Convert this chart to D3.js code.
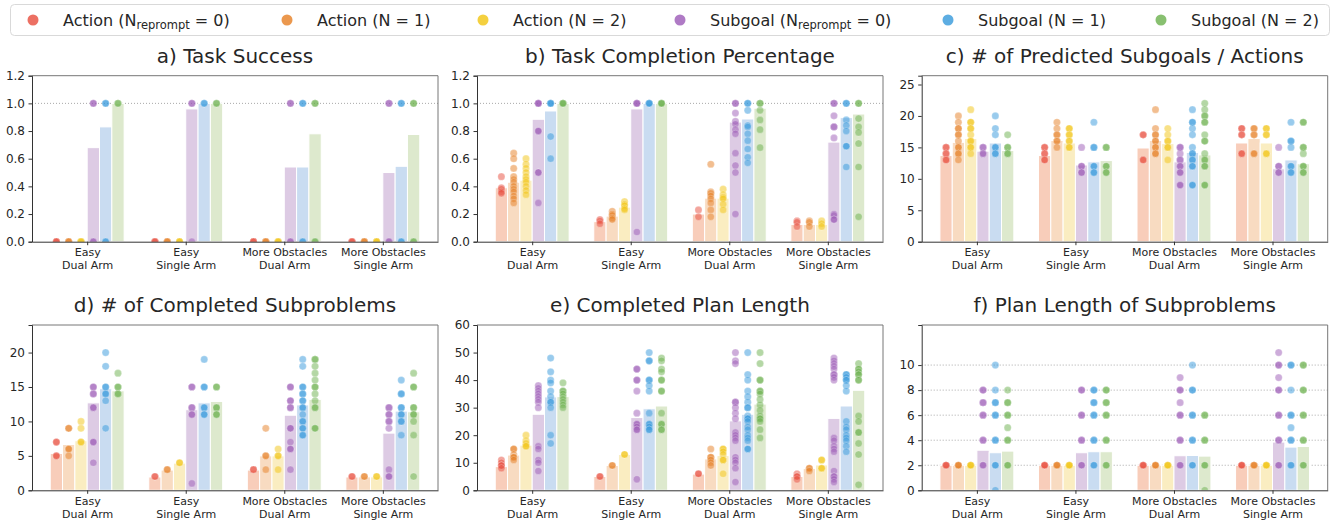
<!DOCTYPE html>
<html>
<head>
<meta charset="utf-8">
<script src="https://cdn.jsdelivr.net/npm/d3@7"></script>
<style>
  body { margin: 0; background: #fff; }
  svg { font-family: "DejaVu Sans", sans-serif; }
</style>
</head>
<body>
<svg id="chart" width="1340" height="523"></svg>
<script>
// categories / series
const categories = [["Easy", "Dual Arm"], ["Easy", "Single Arm"], ["More Obstacles", "Dual Arm"], ["More Obstacles", "Single Arm"]];
const seriesLabels = [
  ["Action (N", "reprompt", " = 0)"], ["Action (N = 1)"], ["Action (N = 2)"],
  ["Subgoal (N", "reprompt", " = 0)"], ["Subgoal (N = 1)"], ["Subgoal (N = 2)"]
];
const colors = ["#e74c3c", "#e67e22", "#f1c40f", "#9b59b6", "#3498db", "#6ab04c"];
const barColors = ["#f8cdba", "#f8dbc1", "#faedc1", "#ddcbe4", "#c9dcf1", "#dde9cd"];

// a) task success: means [series][category], points [series][category][]
const successMeans = [
  [0, 0, 0, 0], [0, 0, 0, 0], [0, 0, 0, 0],
  [0.68, 0.96, 0.54, 0.50], [0.83, 1.0, 0.54, 0.545], [1.0, 1.0, 0.78, 0.775]
];
const successPoints = [
  [[0, 0, 0], [0, 0, 0], [0, 0, 0], [0, 0, 0]],
  [[0, 0, 0], [0, 0, 0], [0, 0, 0], [0, 0, 0]],
  [[0, 0, 0], [0, 0, 0], [0, 0, 0], [0, 0, 0]],
  [[1, 1, 0, 0], [1, 1, 0], [1, 1, 0, 0], [1, 1, 0, 0]],
  [[1, 1, 0, 0], [1, 1], [1, 1, 0, 0], [1, 1, 0, 0]],
  [[1, 1], [1, 1], [1, 1, 0, 0], [1, 1, 0, 0]]
];

// b) task completion percentage
const completionMeans = [
  [0.39, 0.145, 0.20, 0.125], [0.43, 0.185, 0.315, 0.125], [0.445, 0.25, 0.315, 0.125],
  [0.885, 0.96, 0.865, 0.72], [0.945, 1.0, 0.887, 0.897], [1.0, 1.0, 0.965, 0.923]
];
const completionPoints = [
  [[0.47, 0.39, 0.38, 0.36, 0.35], [0.16, 0.15, 0.13], [0.23, 0.18], [0.15, 0.14, 0.11]],
  [[0.64, 0.60, 0.53, 0.47, 0.45, 0.43, 0.40, 0.38, 0.36, 0.33, 0.31, 0.28], [0.22, 0.20, 0.19, 0.17, 0.16],
   [0.56, 0.36, 0.35, 0.33, 0.31, 0.28, 0.23, 0.18], [0.15, 0.14, 0.11]],
  [[0.60, 0.56, 0.53, 0.50, 0.47, 0.45, 0.43, 0.40, 0.37, 0.34], [0.29, 0.27, 0.26, 0.24, 0.23],
   [0.38, 0.34, 0.32, 0.31, 0.27, 0.23], [0.15, 0.13, 0.11]],
  [[1, 1, 1, 0.8, 0.8, 0.5, 0.5, 0.28], [1, 1, 1, 0.07], [1, 1, 0.93, 0.87, 0.85, 0.81, 0.78, 0.64, 0.55, 0.5, 0.2],
   [1, 1, 0.91, 0.83, 0.83, 0.75, 0.2, 0.19, 0.16, 0.16]],
  [[1, 1, 1, 0.76, 0.6], [1, 1, 1], [1, 1, 0.95, 0.84, 0.83, 0.78, 0.73, 0.67, 0.61, 0.57],
   [1, 1, 0.88, 0.84, 0.8, 0.69, 0.69, 0.54]],
  [[1, 1, 1], [1, 1, 1], [1, 1, 0.95, 0.88, 0.81, 0.68], [1, 1, 0.89, 0.83, 0.79, 0.71, 0.54, 0.18]]
];

// c) # of predicted subgoals / actions
const predictedMeans = [
  [13.7, 13.7, 14.9, 15.7], [15.8, 16.1, 16.1, 16.4], [16.4, 15.7, 15.6, 15.7],
  [14.4, 12.2, 12.7, 11.6], [15.7, 12.7, 14.2, 13.0], [14.5, 12.9, 13.8, 12.4]
];
const predictedPoints = [
  [[15, 15, 14, 14, 13, 13], [15, 15, 14, 14, 13, 13], [17, 17, 13, 13], [18, 18, 17, 17, 14, 14]],
  [[20, 19, 18, 18, 17, 17, 16, 15, 15, 14, 14, 13], [19, 18, 17, 17, 16, 16, 15], [21, 18, 17, 17, 16, 16, 15, 15, 14, 14],
   [18, 18, 17, 17, 14, 14]],
  [[21, 19, 19, 18, 18, 17, 16, 16, 15, 15, 14], [18, 18, 17, 17, 16, 16, 15, 15], [18, 17, 16, 16, 15, 15, 13],
   [18, 18, 17, 17, 14, 14]],
  [[15, 15, 14, 14], [15, 12, 12, 11, 11], [15, 15, 14, 13, 13, 12, 12, 11, 11, 9, 9], [15, 12, 12, 11, 11]],
  [[20, 18, 17, 15, 15, 14, 14], [19, 15, 15, 12, 12, 11, 11], [21, 19, 19, 18, 17, 15, 14, 14, 13, 13, 12, 12, 9, 9],
   [19, 16, 16, 15, 12, 12, 11, 11]],
  [[17, 15, 15, 14, 14], [15, 15, 12, 12, 11, 11], [22, 21, 20, 20, 19, 19, 17, 16, 16, 14, 13, 13, 12, 12, 9, 9],
   [19, 19, 15, 15, 14, 12, 12, 11, 11]]
];

// d) # of completed subproblems
const subproblemMeans = [
  [5.35, 1.93, 2.94, 1.93], [6.65, 2.94, 5.0, 1.95], [7.2, 3.95, 5.0, 1.95],
  [12.7, 11.7, 10.9, 8.3], [14.75, 12.7, 12.4, 11.5], [14.45, 12.9, 13.2, 11.4]
];
const subproblemPoints = [
  [[7, 7, 5, 5], [2, 2], [3, 3], [2, 2]],
  [[9, 9, 6, 6, 5], [3, 3], [9, 5, 5, 3], [2, 2]],
  [[10, 9, 7, 7], [4, 4], [6, 5, 5, 3], [2, 2]],
  [[15, 15, 14, 14, 12, 12, 7, 7, 4], [15, 15, 12, 12, 11, 11, 1], [15, 15, 13, 13, 12, 12, 9, 9, 7, 6, 6, 3],
   [12, 12, 11, 11, 10, 10, 9, 3, 2, 2]],
  [[20, 18, 15, 15, 14, 14, 13, 9], [19, 15, 15, 12, 12, 11, 11], [19, 18, 15, 15, 14, 14, 13, 13, 12, 12, 11, 10, 10, 9, 9, 8, 8],
   [16, 14, 14, 12, 12, 11, 11, 10, 10, 8]],
  [[17, 15, 15, 14, 14], [15, 15, 12, 12, 11, 11], [19, 19, 18, 17, 16, 15, 15, 14, 13, 12, 12, 9, 9],
   [17, 15, 15, 12, 12, 11, 11, 10, 8, 2]]
];

// e) completed plan length
const planMeans = [
  [8.6, 5.0, 5.9, 5.0], [12.8, 9.0, 11.4, 7.9], [16.4, 13.0, 12.6, 9.2],
  [27.6, 26.4, 25.2, 26.1], [33.9, 29.6, 27.6, 30.6], [34.0, 30.6, 31.3, 36.3]
];
const planPoints = [
  [[11, 10, 9, 9, 8], [5, 5], [6, 6], [6, 5, 5, 4]],
  [[15, 15, 13, 12, 12, 11], [9, 9], [15, 12, 12, 11, 10, 9], [8, 8, 7]],
  [[20, 18, 17, 16, 16], [13, 13], [15, 15, 14, 13, 11, 11, 6], [11, 11, 8, 8]],
  [[38, 37, 36, 35, 34, 33, 32, 30, 16, 15, 11, 10, 7], [44, 44, 40, 40, 36, 28, 24, 24, 23, 22, 22, 4],
   [50, 47, 46, 32, 32, 30, 28, 26, 21, 20, 19, 18, 12, 11, 10, 8, 3],
   [48, 47, 46, 45, 44, 42, 42, 41, 40, 19, 18, 16, 15, 14, 7, 5, 5, 4, 3]],
  [[48, 43, 40, 39, 36, 34, 32, 32, 30, 20, 17], [50, 47, 47, 40, 40, 38, 36, 28, 24, 24, 23, 22, 22],
   [50, 42, 40, 36, 34, 32, 30, 30, 27, 26, 26, 25, 23, 22, 20, 19, 18, 15, 15],
   [42, 42, 41, 40, 40, 38, 36, 25, 23, 22, 20, 19, 18, 16, 14]],
  [[39, 36, 36, 35, 34, 33, 32, 31, 30], [48, 47, 44, 43, 40, 40, 36, 36, 28, 24, 24, 22, 22],
   [50, 46, 40, 40, 36, 36, 35, 33, 31, 29, 27, 26, 26, 25, 22, 19],
   [46, 44, 44, 43, 42, 42, 40, 40, 27, 25, 21, 21, 17, 13, 2]]
];

// f) plan length of subproblems
const subplanMeans = [
  [2, 2, 2, 2], [2, 2, 2, 2], [2, 2, 2, 2],
  [3.2, 3.0, 2.76, 3.85], [3.0, 3.08, 2.78, 3.45], [3.13, 3.08, 2.73, 3.5]
];
const subplanPoints = [
  [[2, 2, 2], [2, 2, 2], [2, 2, 2], [2, 2, 2]],
  [[2, 2, 2], [2, 2, 2], [2, 2, 2], [2, 2, 2]],
  [[2, 2, 2], [2, 2, 2], [2, 2, 2], [2, 2, 2]],
  [[8, 8, 7, 7, 6, 6, 4, 4, 2, 2], [8, 8, 6, 6, 4, 4, 2, 2], [9, 8, 8, 7, 6, 6, 4, 4, 2, 2], [11, 10, 10, 9, 8, 8, 6, 6, 4, 4, 2, 2]],
  [[10, 8, 7, 7, 6, 6, 4, 4, 2, 2, 0], [8, 8, 7, 7, 6, 6, 4, 4, 2, 2], [10, 8, 8, 6, 6, 4, 4, 2, 2], [10, 10, 8, 6, 6, 5, 4, 4, 2, 2]],
  [[8, 7, 7, 6, 6, 5, 4, 4, 2, 2], [8, 8, 7, 7, 6, 6, 4, 4, 2, 2], [6, 6, 4, 4, 2, 2, 0], [10, 10, 8, 8, 6, 6, 4, 4, 2, 2]]
];

const panels = [
  { title: "a) Task Success", means: successMeans, points: successPoints, ymax: 1.2, ticks: d3.range(0, 1.21, 0.2), fmt: ".1f", grid: [1.0] },
  { title: "b) Task Completion Percentage", means: completionMeans, points: completionPoints, ymax: 1.2, ticks: d3.range(0, 1.21, 0.2), fmt: ".1f", grid: [1.0] },
  { title: "c) # of Predicted Subgoals / Actions", means: predictedMeans, points: predictedPoints, ymax: 26.4, ticks: [0, 5, 10, 15, 20, 25], fmt: "d", grid: [] },
  { title: "d) # of Completed Subproblems", means: subproblemMeans, points: subproblemPoints, ymax: 24, ticks: [0, 5, 10, 15, 20], fmt: "d", grid: [] },
  { title: "e) Completed Plan Length", means: planMeans, points: planPoints, ymax: 60, ticks: [0, 10, 20, 30, 40, 50, 60], fmt: "d", grid: [] },
  { title: "f) Plan Length of Subproblems", means: subplanMeans, points: subplanPoints, ymax: 13.2, ticks: [0, 2, 4, 6, 8, 10], fmt: "d", grid: [2, 4, 6, 8, 10] }
];

const svg = d3.select("#chart");
const colX = [32, 477, 921.7];
const rowY = [75.7, 325];
const rowH = [166, 165.3];
const pw = 406;
const dodge = 0.125;

// legend
const legend = svg.append("g");
legend.append("rect")
  .attr("x", 10.5).attr("y", 4.5).attr("width", 1319).attr("height", 31)
  .attr("rx", 4).attr("fill", "#fff").attr("stroke", "#d9d9d9");
const legendX = [33, 287, 483, 680, 948, 1161];
seriesLabels.forEach((lab, i) => {
  const g = legend.append("g").attr("transform", "translate(" + legendX[i] + ",20)");
  g.append("circle").attr("r", 5.5).attr("fill", colors[i]).attr("opacity", 0.8);
  const t = g.append("text").attr("x", 30).attr("y", 5.8)
    .attr("font-size", "16px").attr("fill", "#262626");
  t.append("tspan").text(lab[0]);
  if (lab.length > 1) {
    t.append("tspan").text(lab[1]).attr("font-size", "11.5px").attr("dy", 3.5);
    t.append("tspan").text(lab[2]).attr("dy", -3.5);
  }
});

panels.forEach((p, pi) => {
  const col = pi % 3, row = Math.floor(pi / 3);
  const ph = rowH[row];
  const g = svg.append("g").attr("transform", "translate(" + colX[col] + "," + rowY[row] + ")");

  const x = d3.scaleLinear().domain([-0.56, 3.56]).range([0, pw]);
  const y = d3.scaleLinear().domain([0, p.ymax]).range([ph, 0]);
  const bw = x(dodge) - x(0);

  const clipId = "clip" + pi;
  g.append("clipPath").attr("id", clipId)
    .append("rect").attr("width", pw).attr("height", ph);

  // dotted reference lines
  g.selectAll(".grid").data(p.grid).enter().append("line")
    .attr("x1", 0).attr("x2", pw)
    .attr("y1", d => y(d)).attr("y2", d => y(d))
    .attr("stroke", "#a8a8a8").attr("stroke-width", 1)
    .attr("stroke-dasharray", "1,2");

  const body = g.append("g").attr("clip-path", "url(#" + clipId + ")");

  // bars (means)
  p.means.forEach((vals, s) => {
    body.selectAll(".bar" + s).data(vals).enter().append("rect")
      .attr("x", (d, c) => x(c + (s - 2.5) * dodge) - bw / 2)
      .attr("y", d => y(d))
      .attr("width", bw)
      .attr("height", d => ph - y(d))
      .attr("fill", barColors[s])
      .attr("stroke", "#fff").attr("stroke-width", 1);
  });

  // strip points
  p.points.forEach((cats, s) => {
    const pts = [];
    cats.forEach((arr, c) => arr.forEach(v => pts.push({ c: c, v: v })));
    body.selectAll(".pt" + s).data(pts).enter().append("circle")
      .attr("cx", d => x(d.c + (s - 2.5) * dodge))
      .attr("cy", d => y(d.v))
      .attr("r", 3.6)
      .attr("fill", colors[s]).attr("fill-opacity", 0.5)
      .attr("stroke", "#fff").attr("stroke-width", 0.4).attr("stroke-opacity", 0.6);
  });

  // frame
  g.append("line").attr("x1", 0).attr("x2", pw).attr("y1", 0).attr("y2", 0).attr("stroke", "#777");
  g.append("line").attr("x1", pw).attr("x2", pw).attr("y1", 0).attr("y2", ph).attr("stroke", "#777");

  // y axis
  const yAxis = g.append("g")
    .call(d3.axisLeft(y).tickValues(p.ticks).tickFormat(d3.format(p.fmt)).tickSize(3.5).tickPadding(3.5));
  yAxis.select(".domain").attr("stroke", "#333");
  yAxis.selectAll(".tick line").attr("stroke", "#333");
  yAxis.selectAll("text").attr("font-size", "12px").attr("fill", "#262626")
    .attr("font-family", "DejaVu Sans, sans-serif");

  // x axis with two-line labels
  const xAxis = g.append("g").attr("transform", "translate(0," + ph + ")")
    .call(d3.axisBottom(x).tickValues([0, 1, 2, 3]).tickSize(3.5).tickSizeOuter(0).tickFormat(""));
  xAxis.select(".domain").attr("stroke", "#333");
  xAxis.selectAll(".tick line").attr("stroke", "#333");
  xAxis.selectAll(".tick").each(function (d) {
    const t = d3.select(this).append("text")
      .attr("fill", "#262626").attr("font-size", "11px").attr("text-anchor", "middle")
      .attr("font-family", "DejaVu Sans, sans-serif");
    categories[d].forEach((line, li) => {
      t.append("tspan").attr("x", 0).attr("y", 14.6 + li * 13).text(line);
    });
  });

  // title
  g.append("text").attr("x", pw / 2).attr("y", -13)
    .attr("text-anchor", "middle").attr("font-size", "20px").attr("fill", "#262626")
    .text(p.title);
});
</script>
</body>
</html>
